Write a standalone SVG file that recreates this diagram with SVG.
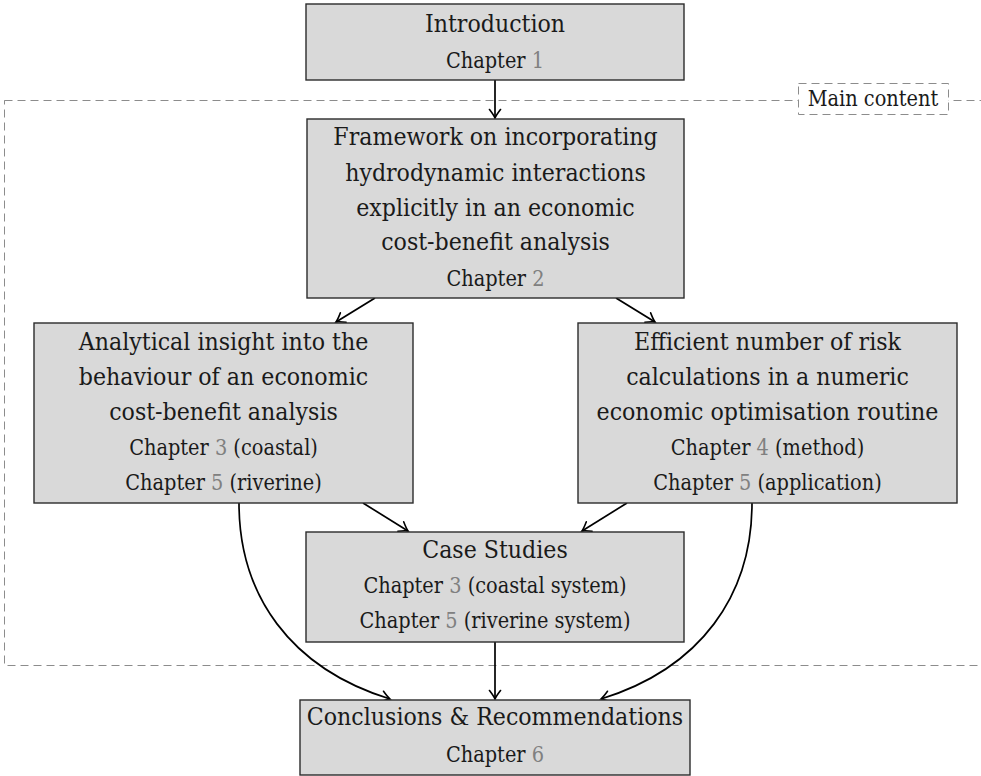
<svg xmlns="http://www.w3.org/2000/svg" width="981" height="776" viewBox="0 0 981 776">
<style>
.box{fill:#d9d9d9;stroke:#2b2b2b;stroke-width:1.4}
.t{font-family:"DejaVu Serif Condensed","DejaVu Serif","Liberation Serif",serif;font-stretch:condensed;font-size:24.6px;fill:#1a1a1a;text-anchor:middle}
.s{font-family:"DejaVu Serif Condensed","DejaVu Serif","Liberation Serif",serif;font-stretch:condensed;font-size:21.5px;fill:#1a1a1a;text-anchor:middle}
.n{fill:#808080}
.edge{fill:none;stroke:#000;stroke-width:1.7;marker-end:url(#ah)}
.frame{fill:none;stroke:#8c8c8c;stroke-width:1;stroke-dasharray:8 5}
</style>
<defs>
<marker id="ah" viewBox="-10 -8 12 16" refX="0" refY="0" markerWidth="12" markerHeight="16" markerUnits="userSpaceOnUse" orient="auto">
<path d="M -8.5 -5.5 Q -3 -1.3 0 0 Q -3 1.3 -8.5 5.5" fill="none" stroke="#000" stroke-width="1.6" stroke-linecap="round"/>
</marker>
</defs>
<g id="frame">
<rect class="frame" x="4.5" y="100.5" width="1010" height="565"/>
<rect x="798.5" y="83.5" width="150" height="31" fill="#fff" stroke="#8c8c8c" stroke-width="1" stroke-dasharray="8 5"/>
<text class="s" x="873" y="106">Main content</text>
</g>
<g id="connectors">
<path class="edge" d="M 495 80 L 495 118"/>
<path class="edge" d="M 375 298 L 336 322"/>
<path class="edge" d="M 616 298 L 655 322"/>
<path class="edge" d="M 363 503 L 408 531"/>
<path class="edge" d="M 627 503 L 582 531"/>
<path class="edge" d="M 495 642 L 495 699"/>
<path class="edge" d="M 239 503 C 239 595, 290 668, 390 699"/>
<path class="edge" d="M 752 503 C 752 595, 701 668, 601 699"/>
</g>
<g id="intro">
<rect class="box" x="306" y="4" width="378" height="76"/>
<text class="t" x="495" y="32">Introduction</text>
<text class="s" x="495" y="68">Chapter <tspan class="n">1</tspan></text>
</g>
<g id="framework">
<rect class="box" x="307" y="119" width="377" height="179"/>
<text class="t" x="495.5" y="145">Framework on incorporating</text>
<text class="t" x="495.5" y="181">hydrodynamic interactions</text>
<text class="t" x="495.5" y="216">explicitly in an economic</text>
<text class="t" x="495.5" y="250">cost-benefit analysis</text>
<text class="s" x="495.5" y="286">Chapter <tspan class="n">2</tspan></text>
</g>
<g id="analytical">
<rect class="box" x="34" y="323" width="379" height="180"/>
<text class="t" x="223.5" y="350">Analytical insight into the</text>
<text class="t" x="223.5" y="385">behaviour of an economic</text>
<text class="t" x="223.5" y="420">cost-benefit analysis</text>
<text class="s" x="223.5" y="455">Chapter <tspan class="n">3</tspan> (coastal)</text>
<text class="s" x="223.5" y="490">Chapter <tspan class="n">5</tspan> (riverine)</text>
</g>
<g id="efficient">
<rect class="box" x="578" y="323" width="379" height="180"/>
<text class="t" x="767.5" y="350">Efficient number of risk</text>
<text class="t" x="767.5" y="385">calculations in a numeric</text>
<text class="t" x="767.5" y="420">economic optimisation routine</text>
<text class="s" x="767.5" y="455">Chapter <tspan class="n">4</tspan> (method)</text>
<text class="s" x="767.5" y="490">Chapter <tspan class="n">5</tspan> (application)</text>
</g>
<g id="cases">
<rect class="box" x="306" y="532" width="378" height="110"/>
<text class="t" x="495" y="558">Case Studies</text>
<text class="s" x="495" y="593">Chapter <tspan class="n">3</tspan> (coastal system)</text>
<text class="s" x="495" y="628">Chapter <tspan class="n">5</tspan> (riverine system)</text>
</g>
<g id="conclusions">
<rect class="box" x="300" y="700" width="390" height="75"/>
<text class="t" x="495" y="725">Conclusions &amp; Recommendations</text>
<text class="s" x="495" y="762">Chapter <tspan class="n">6</tspan></text>
</g>
</svg>
